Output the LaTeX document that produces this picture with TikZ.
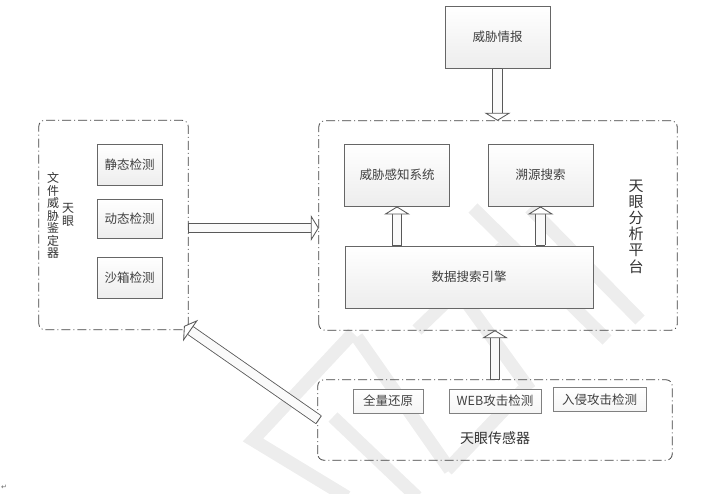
\documentclass[tikz,border=0pt]{standalone}
\usepackage{fontspec}
\setmainfont{Noto Sans CJK SC}[Scale=1]
\newfontfamily\markfont{DejaVu Sans}
\usepackage{tikz}
\usetikzlibrary{positioning}
\usetikzlibrary{arrows.meta}
\setlength{\lineskiplimit}{-20pt}
\tikzset{
	mod/.style={draw=black!60, line width=0.9pt, top color=white, bottom color=black!7, text=black!75, font=\fontsize{12.5}{14}\selectfont, inner sep=0pt},
	chk/.style={mod, minimum width=65pt, minimum height=41pt},
	sys/.style={mod, minimum width=105pt, minimum height=62pt},
	probe/.style={mod, minimum height=24pt, draw=black!50, bottom color=black!4},
	zone/.style={draw=black!75, line width=0.8pt, rounded corners=6pt, dash pattern=on 9pt off 3pt on 1pt off 3pt},
	vtext/.style={align=center, text=black!80, inner sep=0pt},
	pipe/.style={double=black!2, double distance=8.6pt, line width=0.85pt, draw=black!65, {Bar[width=9.6pt]}-{Triangle[open, fill=white, length=8pt, width=26pt]}},
	wmark/.style={draw=black!7, line width=13pt}
}
\begin{document}
\begin{tikzpicture}[x=1pt, y=-1pt]
	 \useasboundingbox (0,0) rectangle (718,493);
	 % watermark
	 \draw[wmark] (473,208) -- (607,340);
	 \draw[wmark] (530,208) -- (640,320);
	 \draw[wmark] (503,247) -- (417,330);
	 \draw[wmark] (353,333) -- (253,440) -- (347,497);
	 \draw[wmark] (357,337) -- (450,470);
	 \draw[wmark] (467,303) -- (530,390);
	 \draw[wmark] (523,390) -- (447,470);
	 \draw[wmark] (333,417) -- (417,497);
	 % zones
	 \node [draw=none, minimum width=149pt, minimum height=209pt] (lzone) at (113.5,225) {};
	 \draw[zone] (lzone.south west) rectangle (lzone.north east);
	 \node [draw=none, minimum width=358pt, minimum height=209pt] (pzone) at (498,225.5) {};
	 \draw[zone] (pzone.south west) rectangle (pzone.north east);
	 \node [draw=none, minimum width=354pt, minimum height=80pt] (szone) at (495,420) {};
	 \draw[zone] (szone.south west) rectangle (szone.north east);
	 % left checks
	 \node [chk] (stat) at (129.5,165) {静态检测};
	 \node [chk, minimum height=39pt, below=13pt of stat] (dyn) {动态检测};
	 \node [chk, below=18pt of dyn] (sand) {沙箱检测};
	 \node [vtext, font=\fontsize{12}{12.5}\selectfont] (ftext) at (53,215.5) {文\\件\\威\\胁\\鉴\\定\\器};
	 \node [vtext, font=\fontsize{12}{12.5}\selectfont] (eye) at (68,215) {天\\眼};
	 % platform
	 \node [sys] (intel) at (497.5,37) {威胁情报};
	 \node [sys] (sense) at (397,175) {威胁感知系统};
	 \node [sys] (trace) at (540.5,175) {溯源搜索};
	 \node [sys, minimum width=248pt] (engine) at (469,277) {数据搜索引擎};
	 \node [vtext, font=\fontsize{15}{16.2}\selectfont] (ptext) at (636,226.5) {天\\眼\\分\\析\\平\\台};
	 % sensors
	 \node [probe, minimum width=70pt] (full) at (388,401) {全量还原};
	 \node [probe, minimum width=92pt] (web) at (495,401) {WEB攻击检测};
	 \node [probe, minimum width=93pt] (ids) at (599.5,399.5) {入侵攻击检测};
	 \node [inner sep=0pt, text=black!80, font=\fontsize{14}{16}\selectfont] (stext) at (495,438) {天眼传感器};
	 % arrows
	 \draw[pipe] (intel.south) -- (pzone.north -| intel.south);
	 \draw[pipe] (lzone.east |- 0,228) -- (pzone.west |- 0,228);
	 \draw[pipe] (engine.north -| sense.south) -- (sense.south);
	 \draw[pipe] (engine.north -| trace.south) -- (trace.south);
	 \draw[pipe] (szone.north -| web.north) -- (pzone.south -| web.north);
	 \coordinate (tail) at (319,420);
	 \coordinate (tip) at (184,326);
	 \draw[pipe] (tail) -- (tip);
	 \node [inner sep=0pt, text=black!60, font=\markfont\fontsize{7}{8}\selectfont] (para) at (4,487) {↵};
 \end{tikzpicture}
\end{document}
